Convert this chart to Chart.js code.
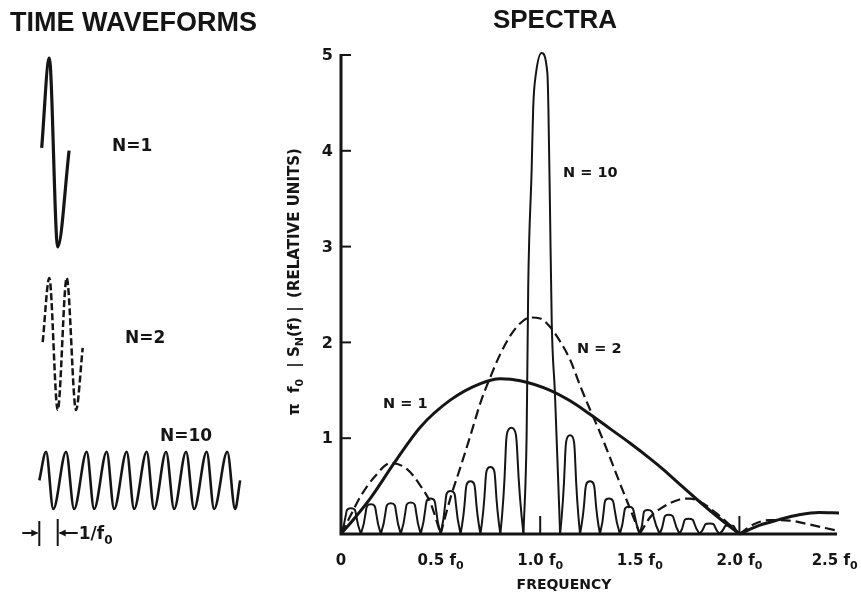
<!DOCTYPE html>
<html>
<head>
<meta charset="utf-8">
<script src="https://cdn.jsdelivr.net/npm/chart.js@4.4.1/dist/chart.umd.min.js"></script>
<style>
  html, body { margin: 0; padding: 0; background: #fff; }
  #figure { position: relative; width: 861px; height: 598px; background: #fff; }
  #figure canvas { position: absolute; left: 0; top: 0; }
</style>
</head>
<body>
<div id="figure">
  <canvas id="spectra" width="861" height="598"></canvas>
  <canvas id="waves" width="300" height="598"></canvas>
</div>
<script>
// ---- spectra (frequency in units of f0, amplitude in relative units) ----
const n1Freq = [0, 0.07, 0.15, 0.27, 0.4, 0.55, 0.7, 0.8, 0.9, 1.05, 1.15, 1.25, 1.35, 1.45, 1.55, 1.62, 1.7, 1.79, 1.89, 2.0,
                2.1, 2.2, 2.3, 2.4, 2.5];
const n1Amp  = [0, 0.17, 0.38, 0.75, 1.12, 1.40, 1.57, 1.62, 1.60, 1.50, 1.39, 1.25, 1.10, 0.95, 0.79, 0.67, 0.52, 0.355, 0.18, 0,
                0.09, 0.15, 0.20, 0.225, 0.22];

const n2Freq = [0, 0.05, 0.1, 0.17, 0.25, 0.33, 0.4, 0.45, 0.5, 0.55, 0.6, 0.65, 0.7, 0.75, 0.8, 0.85, 0.9, 0.95, 1.0,
                1.05, 1.1, 1.15, 1.2, 1.25, 1.3, 1.35, 1.4, 1.45, 1.5, 1.55, 1.6, 1.7, 1.75, 1.8, 1.9, 2.0, 2.07, 2.15, 2.25, 2.35, 2.48];
const n2Amp  = [0, 0.2, 0.4, 0.6, 0.74, 0.68, 0.5, 0.32, 0, 0.38, 0.7, 1.03, 1.37, 1.64, 1.88, 2.07, 2.2, 2.26, 2.25,
                2.16, 2.01, 1.82, 1.55, 1.30, 1.06, 0.80, 0.53, 0.27, 0, 0.17, 0.26, 0.36, 0.37, 0.34, 0.19, 0, 0.1, 0.145, 0.14, 0.1, 0.04];

// N = 10: zeros between side lobes and one peak per side lobe
const n10Edges    = [0, 0.1, 0.2, 0.3, 0.4, 0.5, 0.6, 0.7, 0.8, 0.916, 1.1, 1.2, 1.3, 1.4, 1.5, 1.6, 1.7, 1.8, 1.9, 2.0];
const n10PeakFreq = [0.05, 0.15, 0.25, 0.35, 0.45, 0.55, 0.65, 0.75, 0.855, null, 1.15, 1.25, 1.345, 1.445, 1.54, 1.645, 1.745, 1.85, 1.95];
const n10PeakAmp  = [0.27, 0.31, 0.32, 0.33, 0.37, 0.45, 0.55, 0.70, 1.11, null, 1.03, 0.55, 0.37, 0.285, 0.25, 0.20, 0.16, 0.11, 0.09];
// main lobe, 0.916 .. 1.1 f0
const n10MainFreq = [0.916, 0.932, 0.940, 0.957, 0.965, 0.979, 1.007, 1.036, 1.041, 1.049, 1.058, 1.074, 1.1];
const n10MainAmp  = [0, 1.05, 2.6, 3.8, 4.46, 4.81, 5.02, 4.81, 4.46, 3.42, 2.20, 1.47, 0];

const ampTicks  = [1, 2, 3, 4, 5];
const freqTicks = [0, 0.5, 1.0, 1.5, 2.0, 2.5];
const freqTickText = ["0", "0.5", "1.0", "1.5", "2.0", "2.5"];
const freqTickMarks = [1.0, 2.0];

// ---- time waveforms (time in units of 1/f0, amplitude normalised) ----
const wave1Time  = [0.12, 0.50, 0.92, 1.49];
const wave1Amp   = [0.05, 1, -1, 0.02];
const wave2Time  = [0.17, 0.50, 0.92, 1.37, 1.835, 2.17];
const wave2Amp   = [0.03, 1, -1, 1, -1, -0.06];
const wave10Time = [0, 0.34, 0.70, 1.34, 1.74, 2.37, 2.74, 3.37, 3.74, 4.37, 4.74, 5.37, 5.74, 6.34, 6.74, 7.34, 7.74, 8.37, 8.74, 9.40, 9.79, 10.04];
const wave10Amp  = [0, 1, -1, 1, -1, 1, -1, 1, -1, 1, -1, 1, -1, 1, -1, 1, -1, 1, -1, 1, -1, 0];
const markerTimes = [0, 0.92];

const ink = "#151515";
const labelFont = '"DejaVu Sans", sans-serif';
const titleFont = '"Liberation Sans", Arial, sans-serif';

// break the line at interior zeros so each lobe keeps its cusp
function toSegments(freq, amp) {
  const pts = [];
  for (let i = 0; i < freq.length; i++) {
    pts.push({ x: freq[i], y: amp[i] });
    if (amp[i] === 0 && i > 0 && i < freq.length - 1) {
      pts.push({ x: freq[i], y: null });
      pts.push({ x: freq[i], y: 0 });
    }
  }
  return pts;
}

function tenCycleSideLobes() {
  const pts = [];
  for (let i = 0; i < n10Edges.length - 1; i++) {
    if (n10PeakFreq[i] === null) continue;
    pts.push({ x: n10Edges[i], y: 0 });
    pts.push({ x: n10PeakFreq[i], y: n10PeakAmp[i] });
    pts.push({ x: n10Edges[i + 1], y: 0 });
    pts.push({ x: n10Edges[i + 1], y: null });
  }
  return pts;
}

function pairs(xs, ys) {
  return xs.map((x, i) => ({ x: x, y: ys[i] }));
}

// text made of runs, some of them subscripts
function drawRuns(ctx, runs, x, y, size, align) {
  const fontFor = (r) => `bold ${r.sub ? Math.round(size * 0.72) : size}px ${labelFont}`;
  let w = 0;
  runs.forEach((r) => { ctx.font = fontFor(r); w += ctx.measureText(r.t).width; });
  let cx = align === "center" ? x - w / 2 : align === "right" ? x - w : x;
  ctx.textAlign = "left";
  ctx.textBaseline = "alphabetic";
  runs.forEach((r) => {
    ctx.font = fontFor(r);
    ctx.fillText(r.t, cx, y + (r.sub ? size * 0.28 : 0));
    cx += ctx.measureText(r.t).width;
  });
  return w;
}

const spectraDecor = {
  id: "spectraDecor",
  afterDatasetsDraw(chart) {
    const { ctx, scales: { x, y } } = chart;
    const x0 = x.getPixelForValue(0);
    const y0 = y.getPixelForValue(0);
    ctx.save();
    ctx.strokeStyle = ink;
    ctx.fillStyle = ink;

    // axes
    ctx.lineWidth = 3;
    ctx.beginPath();
    ctx.moveTo(x0, y.getPixelForValue(5) - 1);
    ctx.lineTo(x0, y0);
    ctx.lineTo(x.getPixelForValue(2.5) - 2, y0);
    ctx.stroke();

    // ticks point into the plot
    ctx.lineWidth = 2;
    ampTicks.forEach((v) => {
      const py = y.getPixelForValue(v);
      ctx.beginPath();
      ctx.moveTo(x0, py);
      ctx.lineTo(x0 + 10, py);
      ctx.stroke();
      ctx.font = `bold 16px ${labelFont}`;
      ctx.textAlign = "right";
      ctx.textBaseline = "middle";
      ctx.fillText(String(v), x0 - 8, py + 1);
    });
    freqTickMarks.forEach((f) => {
      const px = x.getPixelForValue(f);
      ctx.beginPath();
      ctx.moveTo(px, y0);
      ctx.lineTo(px, y0 - 18);
      ctx.stroke();
    });

    // frequency tick labels
    freqTicks.forEach((f, i) => {
      const runs = f === 0 ? [{ t: freqTickText[i] }]
                           : [{ t: freqTickText[i] + " f" }, { t: "0", sub: true }];
      let px = x.getPixelForValue(f);
      ctx.font = `bold 15px ${labelFont}`;
      const half = ctx.measureText(freqTickText[i] + " f0").width / 2;
      if (px + half > chart.width - 2) px = chart.width - 2 - half;
      drawRuns(ctx, runs, px, 565, 15, "center");
    });

    // axis titles
    ctx.font = `bold 14px ${labelFont}`;
    ctx.textAlign = "center";
    ctx.textBaseline = "alphabetic";
    ctx.fillText("FREQUENCY", 564, 589);

    ctx.save();
    ctx.translate(294, 0);
    ctx.rotate(-Math.PI / 2);
    drawRuns(ctx, [{ t: "π  f" }, { t: "0", sub: true }], -397, 5, 15, "center");
    drawRuns(ctx, [{ t: "| S" }, { t: "N", sub: true }, { t: "(f) |" }], -337, 5, 15, "center");
    drawRuns(ctx, [{ t: "(RELATIVE UNITS)" }], -223, 5, 15, "center");
    ctx.restore();

    // chart title
    ctx.font = `bold 26px ${titleFont}`;
    ctx.textAlign = "center";
    ctx.fillText("SPECTRA", 555, 28);

    // curve labels
    ctx.font = `bold 14.5px ${labelFont}`;
    ctx.textAlign = "left";
    ctx.fillText("N = 10", 563, 177);
    ctx.fillText("N = 2", 577, 353);
    ctx.fillText("N = 1", 383, 408);
    ctx.restore();
  }
};

const wavesDecor = {
  id: "wavesDecor",
  afterDatasetsDraw(chart) {
    const { ctx, scales: { x } } = chart;
    ctx.save();
    ctx.strokeStyle = ink;
    ctx.fillStyle = ink;

    ctx.font = `bold 27px ${titleFont}`;
    ctx.textAlign = "left";
    ctx.textBaseline = "alphabetic";
    ctx.fillText("TIME WAVEFORMS", 10, 31);

    ctx.font = `bold 17px ${labelFont}`;
    ctx.fillText("N=1", 112, 151);
    ctx.fillText("N=2", 125, 343);
    ctx.fillText("N=10", 160, 441);

    // one-period marker
    const a = x.getPixelForValue(markerTimes[0]);
    const b = x.getPixelForValue(markerTimes[1]);
    const my = 533;
    ctx.lineWidth = 2;
    ctx.beginPath();
    ctx.moveTo(a, 521); ctx.lineTo(a, 546);
    ctx.moveTo(b, 519); ctx.lineTo(b, 546);
    ctx.moveTo(a - 17, my); ctx.lineTo(a - 2, my);
    ctx.moveTo(b + 2, my); ctx.lineTo(b + 20, my);
    ctx.stroke();
    ctx.beginPath();
    ctx.moveTo(a - 1, my); ctx.lineTo(a - 8, my - 3.5); ctx.lineTo(a - 8, my + 3.5); ctx.closePath();
    ctx.moveTo(b + 1, my); ctx.lineTo(b + 8, my - 3.5); ctx.lineTo(b + 8, my + 3.5); ctx.closePath();
    ctx.fill();
    drawRuns(ctx, [{ t: "1/f" }, { t: "0", sub: true }], b + 21, 539, 17, "left");
    ctx.restore();
  }
};

const lineBase = {
  borderColor: ink,
  pointRadius: 0,
  fill: false,
  clip: false,
  cubicInterpolationMode: "monotone"
};

new Chart(document.getElementById("spectra"), {
  type: "line",
  data: {
    datasets: [
      // side lobes: plain bezier with a high tension gives round arches
      { ...lineBase, label: "N = 10", data: tenCycleSideLobes(), borderWidth: 2,
        cubicInterpolationMode: "default", tension: 0.75 },
      { ...lineBase, label: "N = 10 main lobe", data: pairs(n10MainFreq, n10MainAmp), borderWidth: 2 },
      { ...lineBase, label: "N = 2", data: toSegments(n2Freq, n2Amp), borderWidth: 2.2, borderDash: [10, 5] },
      { ...lineBase, label: "N = 1", data: toSegments(n1Freq, n1Amp), borderWidth: 3 }
    ]
  },
  options: {
    responsive: false,
    animation: false,
    devicePixelRatio: 1,
    layout: { padding: { left: 341, right: 22, top: 55, bottom: 64 } },
    plugins: { legend: { display: false }, tooltip: { enabled: false } },
    scales: {
      x: { type: "linear", min: 0, max: 2.5, display: false },
      y: { type: "linear", min: 0, max: 5, display: false }
    }
  },
  plugins: [spectraDecor]
});

new Chart(document.getElementById("waves"), {
  type: "line",
  data: {
    datasets: [
      { ...lineBase, label: "N=1", data: pairs(wave1Time, wave1Amp), yAxisID: "y1", borderWidth: 3.2 },
      { ...lineBase, label: "N=2", data: pairs(wave2Time, wave2Amp), yAxisID: "y2", borderWidth: 2.5, borderDash: [7, 3] },
      { ...lineBase, label: "N=10", data: pairs(wave10Time, wave10Amp), yAxisID: "y3", borderWidth: 2.6 }
    ]
  },
  options: {
    responsive: false,
    animation: false,
    devicePixelRatio: 1,
    layout: { padding: 0 },
    plugins: { legend: { display: false }, tooltip: { enabled: false } },
    scales: {
      // 20 px per period, t = 0 at x = 39
      x:  { type: "linear", min: -1.965, max: 13.035, display: false },
      // each waveform gets its own band of the panel
      y1: { type: "linear", min: -4.714, max: 1.614, display: false },
      y2: { type: "linear", min: -3.848, max: 5.212, display: false },
      y3: { type: "linear", min: -4.106, max: 16.766, display: false }
    }
  },
  plugins: [wavesDecor]
});
</script>
</body>
</html>
